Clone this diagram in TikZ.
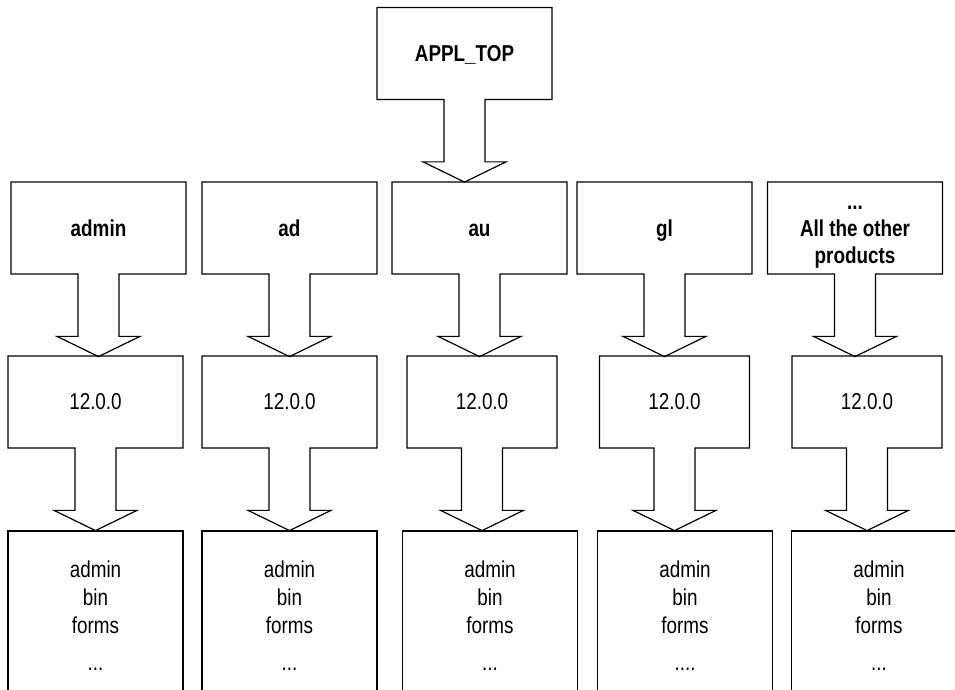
\documentclass[tikz,border=0pt]{standalone}
\usepackage{fontspec}
\setmainfont{Liberation Sans}[FakeStretch=0.82]
\usetikzlibrary{shapes.arrows}

\begin{document}
\begin{tikzpicture}[
  x=1pt, y=-1pt,
  dirbox/.style={arrow box, draw, line width=1.2pt, inner sep=0pt,
                 minimum width=175pt, minimum height=92pt, align=center,
                 arrow box shaft width=41pt, arrow box head extend=21pt,
                 arrow box tip angle=128, arrow box arrows={south:82pt from border},
                 font=\fontsize{23}{28}\selectfont},
  prodbox/.style={dirbox, text depth=0pt, font=\bfseries\fontsize{23}{27}\selectfont},
  verbox/.style={dirbox},
  filebox/.style={rectangle, draw, line width=1.2pt, minimum width=175pt,
                  minimum height=170pt, align=center,
                  font=\fontsize{23}{28}\selectfont},
]
  \useasboundingbox (0,0) rectangle (955,690);
  \clip (0,0) rectangle (955,690);

  % Top
  \node[prodbox] (appltop)   at (464.5, 53.5) {APPL\_TOP};

  % Products
  \node[prodbox] (admin)     at (98.5, 228)   {admin};
  \node[prodbox] (ad)        at (289.5, 228)  {ad};
  \node[prodbox] (au)        at (479.5, 228)  {\vphantom{d}au};
  \node[prodbox] (gl)        at (664.5, 228)  {gl};
  \node[prodbox] (others)    at (855, 228)    {\vphantom{d}...\\All the other\\products};

  % Release
  \node[verbox] (adminver)   at (95.5, 402)   {12.0.0};
  \node[verbox] (adver)      at (289.5, 402)  {12.0.0};
  \node[verbox, minimum width=150pt] (auver)     at (482, 402)   {12.0.0};
  \node[verbox, minimum width=150pt] (glver)     at (674.5, 402) {12.0.0};
  \node[verbox, minimum width=150pt] (othersver) at (867, 402)   {12.0.0};

  % Directories
  \node[filebox] (admindir)  at (95.5, 616)   {admin\\bin\\forms\\[9pt]...};
  \node[filebox] (addir)     at (289.5, 616)  {admin\\bin\\forms\\[9pt]...};
  \node[filebox] (audir)     at (490, 616)    {admin\\bin\\forms\\[9pt]...};
  \node[filebox] (gldir)     at (685, 616)    {admin\\bin\\forms\\[9pt]....};
  \node[filebox] (othersdir) at (879, 616)    {admin\\bin\\forms\\[9pt]...};
\end{tikzpicture}
\end{document}
